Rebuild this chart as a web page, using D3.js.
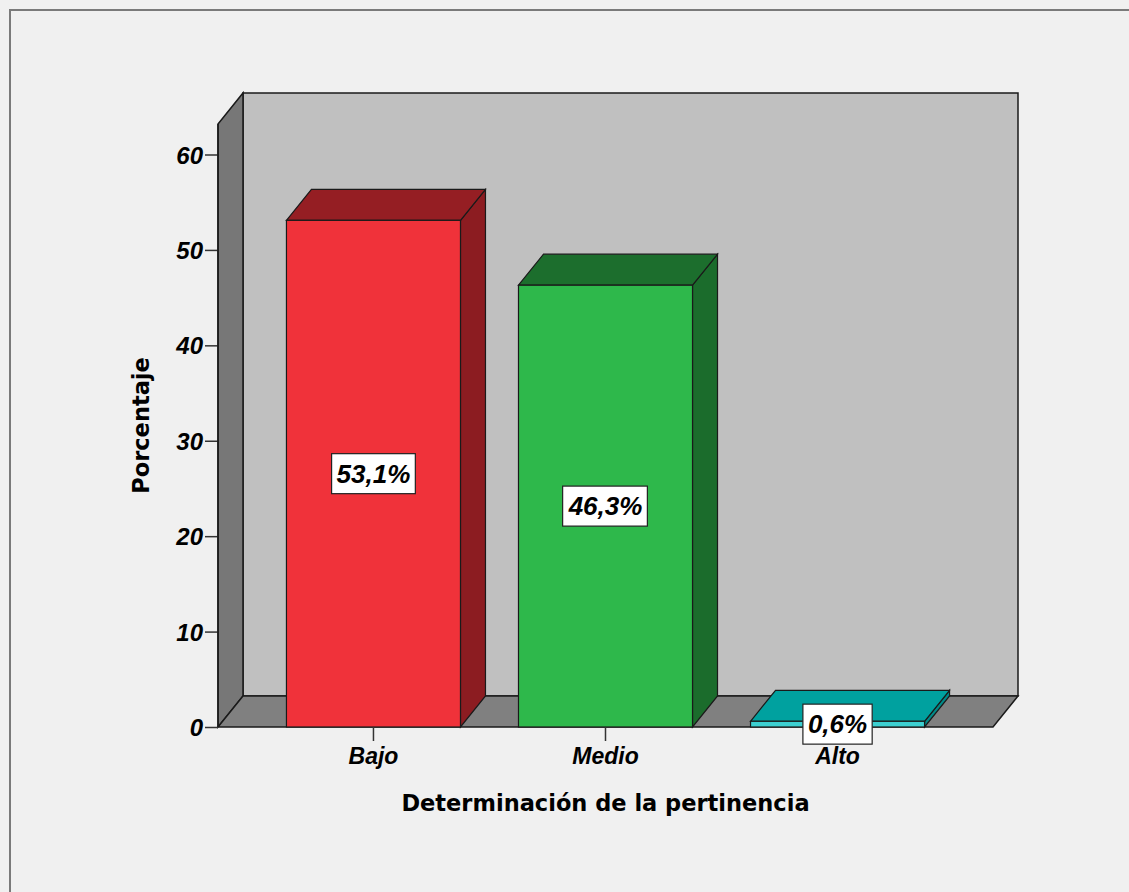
<!DOCTYPE html>
<html>
<head>
<meta charset="utf-8">
<script src="https://cdn.jsdelivr.net/npm/d3@7"></script>
<style>
  html, body { margin: 0; padding: 0; background: #f0f0f0; }
  svg { display: block; }
</style>
</head>
<body>
<svg id="chart" width="1129" height="892"></svg>
<script>
// Categories and percentages
const categories = ["Bajo", "Medio", "Alto"];
const percentages = [53.1, 46.3, 0.6];
const yTicks = [0, 10, 20, 30, 40, 50, 60];
const yTickLabels = ["0", "10", "20", "30", "40", "50", "60"];
const xTitle = "Determinación de la pertinencia";
const yTitle = "Porcentaje";

// Face colours per bar: front, top, side
const frontColors = ["#f0323a", "#2eb84b", "#3ccfd0"];
const topColors = ["#951e23", "#1c6e2d", "#00a19f"];
const sideColors = ["#8c1c21", "#1b6c2c", "#008a88"];

const W = 1129, H = 892;
const svg = d3.select("#chart");

// Frame
svg.append("rect").attr("x", 0).attr("y", 0).attr("width", W).attr("height", H).attr("fill", "#f0f0f0");
svg.append("rect").attr("x", 10).attr("y", 10).attr("width", W + 20).attr("height", H + 20)
  .attr("fill", "none").attr("stroke", "#7a7a7a").attr("stroke-width", 2);

// Plot geometry
const left = 218, right = 993, base = 727;
const depthX = 25, depthY = -31;
const wallMax = 63.2;

const x = d3.scaleBand().domain(categories).range([left, right])
  .paddingInner(0.25).paddingOuter(0.295);
const y = d3.scaleLinear().domain([0, 60]).range([base, 154.5]);

const edge = "#1a1a1a";
const poly = (pts) => "M" + pts.map(p => p.join(",")).join("L") + "Z";

// Back wall
svg.append("path")
  .attr("d", poly([[left + depthX, y(wallMax) + depthY], [right + depthX, y(wallMax) + depthY],
                   [right + depthX, base + depthY], [left + depthX, base + depthY]]))
  .attr("fill", "#c0c0c0").attr("stroke", edge).attr("stroke-width", 1.5);

// Left wall
svg.append("path")
  .attr("d", poly([[left, base], [left, y(wallMax)], [left + depthX, y(wallMax) + depthY], [left + depthX, base + depthY]]))
  .attr("fill", "#777777").attr("stroke", edge).attr("stroke-width", 1.5);

// Floor
svg.append("path")
  .attr("d", poly([[left, base], [left + depthX, base + depthY], [right + depthX, base + depthY], [right, base]]))
  .attr("fill", "#808080").attr("stroke", edge).attr("stroke-width", 1.5);

// Bars: front face, top face, right side face
const bars = svg.append("g");
categories.forEach((c, i) => {
  const v = percentages[i];
  const x0 = x(c), x1 = x(c) + x.bandwidth();
  const yt = y(v);
  const g = bars.append("g");
  g.append("path")
    .attr("d", poly([[x1, base], [x1, yt], [x1 + depthX, yt + depthY], [x1 + depthX, base + depthY]]))
    .attr("fill", sideColors[i]).attr("stroke", edge).attr("stroke-width", 1.2);
  g.append("path")
    .attr("d", poly([[x0, yt], [x0 + depthX, yt + depthY], [x1 + depthX, yt + depthY], [x1, yt]]))
    .attr("fill", topColors[i]).attr("stroke", edge).attr("stroke-width", 1.2);
  g.append("rect")
    .attr("x", x0).attr("y", yt).attr("width", x.bandwidth()).attr("height", base - yt)
    .attr("fill", frontColors[i]).attr("stroke", edge).attr("stroke-width", 1.2);
});

// Y axis
const yAxis = svg.append("g").attr("transform", `translate(${left},0)`)
  .call(d3.axisLeft(y).tickValues(yTicks).tickFormat((d, i) => yTickLabels[i]).tickSize(13).tickPadding(2));
yAxis.select(".domain").remove();
yAxis.append("line").attr("x1", 0).attr("x2", 0).attr("y1", y(wallMax)).attr("y2", base)
  .attr("stroke", edge).attr("stroke-width", 1.5);
yAxis.selectAll(".tick line").attr("stroke", "#333").attr("stroke-width", 1.5);
yAxis.selectAll(".tick text")
  .attr("fill", "#000").style("font-family", "'Liberation Sans', Arial, sans-serif")
  .style("font-size", "24px").style("font-weight", "bold").style("font-style", "italic")
  .attr("dy", "0.36em");

// X axis
const xAxis = svg.append("g").attr("transform", `translate(0,${base})`)
  .call(d3.axisBottom(x).tickSize(14).tickPadding(7));
xAxis.select(".domain").remove();
xAxis.selectAll(".tick line").attr("stroke", "#333").attr("stroke-width", 1.5);
xAxis.selectAll(".tick text")
  .attr("fill", "#000").style("font-family", "'Liberation Sans', Arial, sans-serif")
  .style("font-size", "23px").style("font-weight", "bold").style("font-style", "italic");

// Value labels in boxes
const fmt = d3.format(".1f");
categories.forEach((c, i) => {
  const v = percentages[i];
  const cx = x(c) + x.bandwidth() / 2;
  const cy = y(v / 2);
  const g = svg.append("g");
  const rect = g.append("rect");
  const t = g.append("text")
    .attr("x", cx).attr("y", cy).attr("text-anchor", "middle").attr("dy", "0.36em")
    .style("font-family", "'Liberation Sans', Arial, sans-serif")
    .style("font-size", "26px").style("font-weight", "bold").style("font-style", "italic")
    .attr("fill", "#000")
    .text(fmt(v).replace(".", ",") + "%");
  const bb = t.node().getBBox();
  rect.attr("x", bb.x - 5).attr("y", cy - 20).attr("width", bb.width + 10).attr("height", 40)
    .attr("fill", "#ffffff").attr("stroke", "#222").attr("stroke-width", 1.2);
});

// Axis titles
svg.append("text")
  .attr("x", (left + right) / 2).attr("y", 811).attr("text-anchor", "middle")
  .style("font-family", "'DejaVu Sans', Verdana, sans-serif").style("font-size", "22.5px").style("font-weight", "bold")
  .attr("fill", "#000").text(xTitle);

svg.append("text")
  .attr("transform", `translate(149,${(y(wallMax) + base) / 2}) rotate(-90)`)
  .attr("text-anchor", "middle")
  .style("font-family", "'DejaVu Sans', Verdana, sans-serif").style("font-size", "22.5px").style("font-weight", "bold")
  .attr("fill", "#000").text(yTitle);
</script>
</body>
</html>
